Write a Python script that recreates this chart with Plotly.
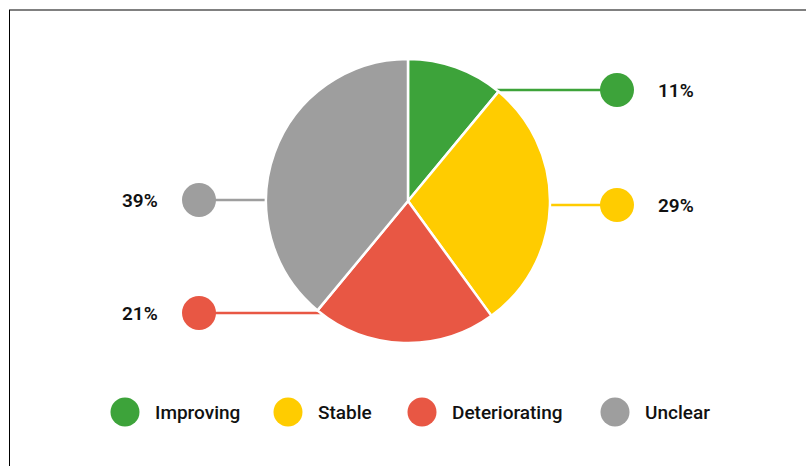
import math
import plotly.graph_objects as go

# ---- data ----
categories = ["Improving", "Stable", "Deteriorating", "Unclear"]
values = [11, 29, 21, 39]
colors = ["#3DA33A", "#FFCC00", "#E85744", "#9E9E9E"]

# ---- layout constants (pixels) ----
W, H = 806, 466
CX, CY, R = 408, 201, 142
leader_side = [1, 1, -1, -1]          # right / left
leader_y = [90, 205, 313, 200]        # label rows
dot_dx = 209                          # dot centre distance from pie centre
label_gap = 39
legend_x = [125, 288, 422, 615]
legend_y = 412
FONT = "Roboto"

fig = go.Figure()

fig.add_trace(go.Pie(
    labels=categories, values=values, sort=False, direction="clockwise",
    rotation=0, textinfo="none", hoverinfo="label+percent",
    marker=dict(colors=colors, line=dict(color="white", width=2.5)),
    domain=dict(x=[(CX - R) / W, (CX + R) / W],
                y=[(H - CY - R) / H, (H - CY + R) / H]),
    showlegend=False,
))

annotations = []
for i, (cat, v, col) in enumerate(zip(categories, values, colors)):
    s = leader_side[i]
    y = leader_y[i]
    dy = y - CY
    x0 = CX + s * math.sqrt(max(R * R - dy * dy, 0))
    xd = CX + s * dot_dx
    fig.add_trace(go.Scatter(x=[x0, xd], y=[y, y], mode="lines",
                             line=dict(color=col, width=2.5),
                             hoverinfo="skip", showlegend=False))
    fig.add_trace(go.Scatter(x=[xd], y=[y], mode="markers",
                             marker=dict(color=col, size=34),
                             hoverinfo="skip", showlegend=False))
    pct = round(100 * v / sum(values))
    annotations.append(dict(
        x=xd + s * label_gap, y=y, xref="x", yref="y", text=f"{pct}%",
        showarrow=False, xanchor="left" if s > 0 else "right", yanchor="middle",
        font=dict(family=FONT, size=19, color="#111111", weight=600)))

# custom legend
fig.add_trace(go.Scatter(x=legend_x, y=[legend_y] * 4, mode="markers",
                         marker=dict(color=colors, size=29),
                         hoverinfo="skip", showlegend=False))
for cat, lx in zip(categories, legend_x):
    annotations.append(dict(
        x=lx + 28, y=legend_y, xref="x", yref="y", text=cat, showarrow=False,
        xanchor="left", yanchor="middle",
        font=dict(family=FONT, size=19, color="#111111", weight=500)))

shapes = [
    dict(type="line", xref="x", yref="y", x0=9, x1=W, y0=10, y1=10,
         line=dict(color="#808080", width=2)),
    dict(type="line", xref="x", yref="y", x0=9.5, x1=9.5, y0=10, y1=H,
         line=dict(color="#000000", width=1)),
]

fig.update_layout(
    width=W, height=H, autosize=False,
    margin=dict(l=0, r=0, t=0, b=0),
    paper_bgcolor="white", plot_bgcolor="white",
    xaxis=dict(range=[0, W], visible=False, fixedrange=True),
    yaxis=dict(range=[H, 0], visible=False, fixedrange=True),
    annotations=annotations, shapes=shapes,
    showlegend=False,
)

fig.write_html("out.html")
